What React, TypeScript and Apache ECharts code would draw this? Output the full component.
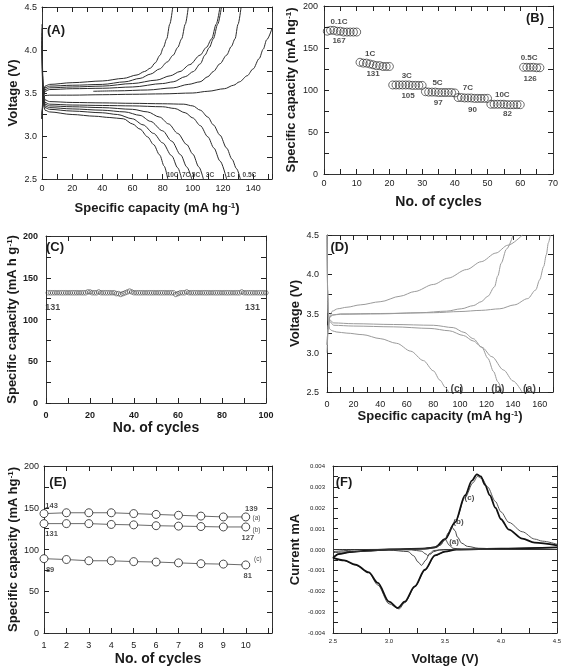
import React, { useEffect, useRef } from "react";
import * as echarts from "echarts";

const FONT = "'Liberation Sans', Arial, Helvetica, sans-serif";
const INK = "#1a1a1a";

// ---------- Panel A: charge/discharge curves at several rates [capacity, voltage] ----------
const aDis05 = [[0, 4.3], [0.5, 3.7], [1, 3.5], [2, 3.42], [5, 3.4], [20, 3.39], [40, 3.385], [60, 3.38], [80, 3.375], [94, 3.37], [100, 3.35], [105, 3.3], [110, 3.22], [113.6, 3.13], [118, 3.01], [122.4, 2.86], [126, 2.73], [129, 2.62], [131.5, 2.5]];
const aDis1 = [[0, 4.25], [0.5, 3.65], [1, 3.47], [2, 3.39], [5, 3.37], [20, 3.36], [40, 3.355], [60, 3.35], [80, 3.34], [88, 3.32], [95, 3.27], [100, 3.21], [105, 3.12], [110, 2.99], [114, 2.86], [118, 2.71], [122.4, 2.5]];
const aDis3 = [[0, 4.2], [0.5, 3.6], [1, 3.44], [2, 3.37], [5, 3.35], [20, 3.34], [40, 3.33], [60, 3.31], [70, 3.28], [78, 3.22], [84, 3.14], [90, 3.03], [96, 2.9], [100, 2.79], [104, 2.64], [107, 2.5]];
const aDis5 = [[0, 4.15], [0.5, 3.58], [1, 3.42], [2, 3.35], [5, 3.33], [20, 3.315], [40, 3.3], [55, 3.28], [65, 3.24], [72, 3.17], [80, 3.06], [86, 2.94], [92, 2.78], [96, 2.64], [99.3, 2.5]];
const aDis7 = [[0, 4.1], [0.5, 3.55], [1, 3.4], [2, 3.33], [5, 3.31], [20, 3.29], [40, 3.27], [50, 3.25], [60, 3.2], [67, 3.13], [74, 3.03], [80, 2.92], [86, 2.77], [90, 2.63], [92.6, 2.5]];
const aDis10 = [[0, 4.05], [0.5, 3.5], [1, 3.36], [2, 3.3], [5, 3.28], [20, 3.25], [35, 3.23], [45, 3.215], [54, 3.2], [60, 3.14], [65, 3.08], [70, 2.99], [74, 2.9], [78, 2.78], [81, 2.65], [83.4, 2.5]];
const aCh05 = [[0, 3.2], [1, 3.44], [2, 3.47], [5, 3.475], [20, 3.475], [40, 3.48], [60, 3.485], [80, 3.49], [100, 3.5], [110, 3.52], [121, 3.55], [127, 3.59], [131, 3.63], [136, 3.7], [140, 3.78], [144, 3.9], [146.7, 4.01], [149, 4.12], [152.5, 4.25]];
const aCh1 = [[34, 3.52], [50, 3.525], [70, 3.535], [87, 3.56], [97, 3.6], [104.8, 3.63], [110, 3.69], [113.6, 3.75], [118, 3.84], [122.4, 3.94], [125.5, 4.04], [128, 4.13], [130, 4.3], [132, 4.5]];
const aCh3 = [[0, 3.2], [1, 3.46], [2, 3.52], [5, 3.54], [20, 3.55], [40, 3.555], [60, 3.57], [80, 3.61], [87, 3.63], [95, 3.69], [100.4, 3.75], [105, 3.84], [108, 3.94], [111, 4.03], [113.6, 4.13], [116.5, 4.3], [119, 4.5]];
const aCh5 = [[0, 3.2], [1, 3.48], [2, 3.54], [5, 3.56], [20, 3.57], [40, 3.58], [60, 3.61], [76, 3.65], [85, 3.7], [91.5, 3.75], [98, 3.83], [104.8, 3.94], [109, 4.03], [112.5, 4.13], [115.5, 4.3], [118, 4.5]];
const aCh7 = [[0, 3.2], [1, 3.5], [2, 3.56], [5, 3.58], [20, 3.59], [40, 3.6], [55, 3.63], [65, 3.67], [72, 3.72], [78, 3.78], [83, 3.86], [87, 3.94], [90, 4.03], [92.6, 4.13], [95, 4.3], [97, 4.5]];
const aCh10 = [[0, 3.25], [1, 3.52], [2, 3.58], [5, 3.6], [20, 3.62], [40, 3.64], [54, 3.67], [63, 3.71], [68, 3.75], [72, 3.79], [75, 3.85], [78.3, 3.94], [80.5, 4.03], [82.7, 4.13], [84.7, 4.3], [86.7, 4.5]];
const aNotes = [
  { t: "10C", x: 86.6, y: 2.556 },
  { t: "7C", x: 95.5, y: 2.556 },
  { t: "5C", x: 102.1, y: 2.556 },
  { t: "3C", x: 111.4, y: 2.556 },
  { t: "1C", x: 125.3, y: 2.556 },
  { t: "0.5C", x: 137.5, y: 2.556 },
];

// ---------- Panel B: rate capability ----------
const bStartCycle = [1, 11, 21, 31, 41, 51, 61];
const b01C = [170, 171, 171, 170, 170, 169, 169, 169, 169, 169];
const b1C = [133, 132, 132, 131, 130, 129, 129, 128, 128, 128];
const b3C = [106, 106, 106, 106, 106, 106, 105.5, 105.5, 105.5, 105.5];
const b5C = [98, 97.5, 97.5, 97.5, 97, 97, 97, 97, 97, 96.5];
const b7C = [91, 91, 90.5, 90.5, 90.5, 90, 90, 90, 90, 90];
const b10C = [83, 83, 83, 83, 83, 82.5, 82.5, 82.5, 82.5, 82.5];
const b05C = [127, 127, 127, 127, 126.5, 126.5];
const bNotes = [
  { t: "0.1C", x: 4.6, y: 182 }, { t: "167", x: 4.6, y: 158.4 },
  { t: "1C", x: 14.1, y: 143.8 }, { t: "131", x: 15, y: 119.2 },
  { t: "3C", x: 25.3, y: 116.8 }, { t: "105", x: 25.7, y: 93.5 },
  { t: "5C", x: 34.7, y: 108.9 }, { t: "97", x: 34.9, y: 85.1 },
  { t: "7C", x: 44, y: 102.6 }, { t: "90", x: 45.4, y: 77.2 },
  { t: "10C", x: 54.5, y: 94.3 }, { t: "82", x: 56.1, y: 72.5 },
  { t: "0.5C", x: 62.7, y: 139 }, { t: "126", x: 63, y: 114 },
];

// ---------- Panel C: 100-cycle stability ----------
const cCapacity = [
  132, 132, 132, 132, 132, 132, 132, 132, 132, 132,
  132, 132, 132, 132, 132, 132, 132, 132, 133, 133,
  132, 132, 132, 133, 132, 132, 132, 132, 132, 132,
  132, 131, 131, 130, 131, 132, 133, 134, 133, 132,
  132, 132, 132, 132, 132, 132, 132, 132, 132, 132,
  132, 132, 132, 132, 132, 132, 132, 132, 130, 131,
  132, 132, 132, 133, 132, 132, 132, 132, 132, 132,
  132, 132, 132, 132, 132, 132, 132, 132, 132, 132,
  132, 132, 132, 132, 132, 132, 132, 132, 133, 132,
  132, 132, 132, 132, 132, 132, 132, 132, 132, 132,
];
const cNotes = [{ t: "131", x: 3.05, y: 114.6 }, { t: "131", x: 93.9, y: 114.6 }];

// ---------- Panel D: three samples, charge/discharge ----------
const dChA = [[0, 3.1], [1, 3.35], [2, 3.45], [4, 3.48], [10, 3.495], [40, 3.5], [80, 3.51], [100, 3.525], [116, 3.54], [130, 3.56], [141, 3.61], [151, 3.69], [157, 3.8], [160, 3.93], [163, 4.1], [165, 4.25], [166.5, 4.4], [168, 4.5]];
const dChB = [[0, 3.1], [1, 3.35], [2, 3.45], [4, 3.48], [10, 3.49], [40, 3.495], [70, 3.51], [90, 3.53], [101, 3.56], [110, 3.6], [116, 3.65], [121, 3.72], [126, 3.84], [128.5, 3.98], [131, 4.14], [135, 4.32], [140, 4.5]];
const dChC = [[0, 3.0], [1, 3.3], [2, 3.45], [4, 3.53], [8, 3.56], [15, 3.58], [25, 3.61], [40, 3.65], [55, 3.72], [66, 3.78], [80, 3.87], [91, 3.95], [105, 4.06], [116, 4.16], [127, 4.27], [136, 4.37], [147, 4.5]];
const dDisA = [[0, 4.5], [0.5, 3.8], [1, 3.5], [2, 3.4], [5, 3.35], [20, 3.34], [50, 3.33], [77.5, 3.31], [92, 3.28], [102.6, 3.22], [110, 3.15], [116.5, 3.07], [124, 2.95], [132.8, 2.78], [140, 2.64], [146.7, 2.5]];
const dDisB = [[0, 4.5], [0.5, 3.8], [1, 3.5], [2, 3.42], [5, 3.38], [20, 3.37], [50, 3.36], [80, 3.35], [95, 3.32], [103, 3.26], [110, 3.18], [116.5, 3.07], [121, 2.93], [125.3, 2.76], [128.5, 2.63], [131.6, 2.5]];
const dDisC = [[0, 4.5], [0.5, 3.7], [1, 3.4], [2, 3.3], [4, 3.28], [7, 3.265], [15, 3.25], [27, 3.23], [40, 3.18], [52.4, 3.12], [63, 3.02], [72.5, 2.9], [80, 2.77], [85, 2.65], [89, 2.56], [91.3, 2.5]];
const dNotes = [{ t: "(c)", x: 97.7, y: 2.55 }, { t: "(b)", x: 128.5, y: 2.55 }, { t: "(a)", x: 152.3, y: 2.55 }];

// ---------- Panel E: first 10 cycles of three samples ----------
const eCycles = [1, 2, 3, 4, 5, 6, 7, 8, 9, 10];
const eA = [143, 144, 144, 144, 143, 142, 141, 140, 139, 139];
const eB = [131, 131, 131, 130, 129.5, 128.5, 128, 127.5, 127, 127];
const eC = [89, 88, 86.5, 86.5, 85.5, 85, 84, 83, 82.5, 81.5];
const eNumNotes = [
  { t: "143", x: 1.34, y: 153 }, { t: "131", x: 1.34, y: 119.6 }, { t: "89", x: 1.27, y: 76.4 },
  { t: "139", x: 10.25, y: 149.6 }, { t: "127", x: 10.09, y: 114.8 }, { t: "81", x: 10.09, y: 69.2 },
];
const eTagNotes = [{ t: "(a)", x: 10.48, y: 138 }, { t: "(b)", x: 10.48, y: 124.4 }, { t: "(c)", x: 10.54, y: 89.6 }];

// ---------- Panel F: cyclic voltammograms [voltage, current] ----------
const fAanodic = [[2.5, 0], [3.0, 0], [3.35, 0.00003], [3.42, 0.0001], [3.46, 0.00021], [3.5, 0.00049], [3.54, 0.0002], [3.57, 0.00006], [3.65, 0.00001], [4.0, 0], [4.5, 0]];
const fAcathodic = [[4.5, 0], [3.6, 0], [3.45, -0.00002], [3.4, -0.0001], [3.37, -0.00022], [3.35, -0.0003], [3.33, -0.00022], [3.29, -0.00008], [3.2, -0.00002], [3.0, 0], [2.5, 0]];
const fBanodic = [[2.5, -0.0001], [2.8, 0], [3.3, 0.00003], [3.4, 0.0001], [3.45, 0.0002], [3.5, 0.0005], [3.53, 0.0008], [3.56, 0.00108], [3.59, 0.0009], [3.61, 0.0006], [3.65, 0.0003], [3.7, 0.00015], [3.8, 0.00006], [4.0, 0.00002], [4.5, 0]];
const fBcathodic = [[4.5, 0], [3.5, 0], [3.4, -0.00005], [3.36, -0.0002], [3.33, -0.0005], [3.29, -0.00076], [3.26, -0.0006], [3.22, -0.0003], [3.17, -0.0001], [3.0, -0.00003], [2.7, -0.0001], [2.5, -0.00015]];
const fC1anodic = [[2.5, -0.0004], [2.55, -0.00022], [2.65, -0.00012], [2.8, -0.00005], [3.0, 0], [3.3, 0.00004], [3.41, 0.0001], [3.5, 0.00049], [3.59, 0.0013], [3.68, 0.0026], [3.74, 0.0033], [3.784, 0.0036], [3.82, 0.0035], [3.857, 0.0031], [3.9, 0.0026], [3.95, 0.002], [4.0, 0.00145], [4.07, 0.00095], [4.19, 0.00052], [4.3, 0.00033], [4.5, 0.0002]];
const fC1cathodic = [[4.5, 0.0001], [4.0, 0.00004], [3.6, 0], [3.5, -0.0001], [3.41, -0.00028], [3.32, -0.00097], [3.23, -0.00177], [3.14, -0.0025], [3.08, -0.0028], [3.0, -0.0025], [2.9, -0.0016], [2.82, -0.0011], [2.7, -0.00072], [2.6, -0.00052], [2.5, -0.0004]];
const fC2anodic = [[2.5, -0.0004], [2.55, -0.0002], [2.7, -0.0001], [3.0, 0], [3.3, 0.00005], [3.41, 0.00012], [3.5, 0.0005], [3.59, 0.0013], [3.68, 0.0025], [3.75, 0.0032], [3.79, 0.0035], [3.83, 0.0034], [3.88, 0.003], [3.95, 0.0023], [4.0, 0.0018], [4.07, 0.0013], [4.19, 0.00085], [4.3, 0.0005], [4.37, 0.0004], [4.5, 0.00025]];
const fC2cathodic = [[4.5, 0.0001], [4.0, 0.00004], [3.6, 0], [3.5, -0.0001], [3.41, -0.0003], [3.32, -0.001], [3.23, -0.0018], [3.14, -0.00255], [3.09, -0.00285], [3.0, -0.0026], [2.9, -0.0017], [2.82, -0.0011], [2.7, -0.00075], [2.6, -0.00053], [2.5, -0.00042]];
const fNotes = [{ t: "(c)", x: 3.718, y: 0.00249 }, { t: "(b)", x: 3.62, y: 0.00132 }, { t: "(a)", x: 3.581, y: 0.00036 }];

// ---------- text ----------
const capName = "Specific capacity (mA hg{s|-1})";
const capNameC = "Specific capacity (mA h g{s|-1})";
const panelTags = ["(A)", "(B)", "(C)", "(D)", "(E)", "(F)"];

type Note = { t: string; x: number; y: number };

function nameStyle(size: number) {
  return {
    fontSize: size,
    fontWeight: "bold",
    fontFamily: FONT,
    color: INK,
    rich: { s: { fontSize: 8, fontWeight: "bold", fontFamily: FONT, color: INK, verticalAlign: "top" } },
  };
}

function makeAxes(g: number, dim: "x" | "y", min: number, max: number, step: number,
  fmt: (v: number) => string, lab: any, name: string, gap: number, nameSize: number) {
  const base = () => ({
    type: "value", gridIndex: g, min, max, interval: step,
    splitLine: { show: false },
    axisLine: { show: true, onZero: false, lineStyle: { color: "#333", width: 1 } },
    axisTick: { show: true, inside: true, length: 5, lineStyle: { color: "#222", width: 1 } },
  });
  const first = dim === "x" ? "bottom" : "left";
  const second = dim === "x" ? "top" : "right";
  return [
    {
      ...base(), position: first,
      axisLabel: { show: true, color: INK, fontFamily: FONT, formatter: fmt, ...lab },
      name, nameLocation: "middle", nameGap: gap, nameTextStyle: nameStyle(nameSize),
    },
    { ...base(), position: second, axisLabel: { show: false } },
  ];
}

function curve(g: number, data: number[][], color: string, width: number) {
  return {
    type: "line", xAxisIndex: g * 2, yAxisIndex: g * 2, data, symbol: "none", showSymbol: false,
    smooth: 0.3, smoothMonotone: "x", lineStyle: { color, width }, silent: true, z: 2,
  };
}

function notes(g: number, items: Note[], size: number, weight: string) {
  return {
    type: "scatter", xAxisIndex: g * 2, yAxisIndex: g * 2, symbolSize: 0, silent: true, z: 5,
    itemStyle: { color: INK },
    data: items.map((it) => ({ name: it.t, value: [it.x, it.y] })),
    label: {
      show: true, position: "inside", formatter: "{b}", fontSize: size, fontWeight: weight,
      color: INK, fontFamily: FONT, textBorderWidth: 0, textBorderColor: "transparent",
    },
  };
}

const halfFmt = (v: number) => (Math.round(v * 100) % 50 === 0 ? v.toFixed(1) : "");
const stepFmt = (step: number, maxShown: number) => (v: number) =>
  Math.abs(Math.round(v) % step) === 0 && v <= maxShown + 1e-9 && Math.abs(v - Math.round(v)) < 1e-6 ? String(Math.round(v)) : "";

export default function App() {
  const ref = useRef<HTMLDivElement>(null);
  useEffect(() => {
    if (!ref.current) return;
    const chart = echarts.init(ref.current, null, { renderer: "svg" });

    const grids = [
      { left: 42, top: 7, width: 230, height: 172 },
      { left: 324, top: 6, width: 229, height: 168 },
      { left: 46, top: 236, width: 220, height: 167 },
      { left: 327, top: 235, width: 226, height: 157 },
      { left: 44, top: 466, width: 228, height: 167 },
      { left: 333, top: 466, width: 224, height: 167 },
    ].map((g) => ({ ...g, containLabel: false, outerBoundsMode: "none" }));

    const lab9 = { fontSize: 9 };
    const xAxis = [
      ...makeAxes(0, "x", 0, 152.5, 10, stepFmt(20, 140), { ...lab9, margin: 4 }, capName, 22, 13),
      ...makeAxes(1, "x", 0, 70, 5, stepFmt(10, 70), { ...lab9, margin: 4 }, "No. of cycles", 20, 14),
      ...makeAxes(2, "x", 0, 100, 10, stepFmt(20, 100), { ...lab9, fontWeight: "bold", margin: 7 }, "No. of cycles", 17, 14),
      ...makeAxes(3, "x", 0, 170, 10, stepFmt(20, 160), { ...lab9, margin: 7 }, capName, 17, 13),
      ...makeAxes(4, "x", 1, 11.17, 1, stepFmt(1, 10), { ...lab9, margin: 7 }, "No. of cycles", 18, 14),
      ...makeAxes(5, "x", 2.5, 4.5, 0.25, halfFmt, { fontSize: 6, margin: 5 }, "Voltage (V)", 19, 13),
    ];
    const yAxis = [
      ...makeAxes(0, "y", 2.5, 4.5, 0.25, halfFmt, { ...lab9, margin: 5 }, "Voltage (V)", 23, 13),
      ...makeAxes(1, "y", 0, 200, 25, stepFmt(50, 200), { ...lab9, margin: 6 }, capName, 27, 13),
      ...makeAxes(2, "y", 0, 200, 25, stepFmt(50, 200), { ...lab9, fontWeight: "bold", margin: 8 }, capNameC, 28, 13),
      ...makeAxes(3, "y", 2.5, 4.5, 0.25, halfFmt, { ...lab9, margin: 8 }, "Voltage (V)", 26, 13),
      ...makeAxes(4, "y", 0, 200, 25, stepFmt(50, 200), { ...lab9, margin: 5 }, capName, 25, 13),
      ...makeAxes(5, "y", -0.004, 0.004, 0.0005,
        (v: number) => (Math.round(v * 10000) % 10 === 0 ? v.toFixed(3) : ""), { fontSize: 6, margin: 8 }, "Current mA", 32, 13),
    ];

    const aColor = "#2b2b2b";
    const series: any[] = [];
    [aDis05, aDis1, aDis3, aDis5, aDis7, aDis10, aCh05, aCh1, aCh3, aCh5, aCh7, aCh10].forEach((d) =>
      series.push(curve(0, d, aColor, 1)));
    series.push(notes(0, aNotes, 6.5, "bold"));

    [b01C, b1C, b3C, b5C, b7C, b10C, b05C].forEach((vals, k) =>
      series.push({
        type: "scatter", xAxisIndex: 2, yAxisIndex: 2, symbol: "circle", symbolSize: 8,
        data: vals.map((v, i) => [bStartCycle[k] + i, v]),
        itemStyle: { color: "rgba(255,255,255,0)", borderColor: INK, borderWidth: 0.8 }, silent: true,
      }));
    series.push(notes(1, bNotes, 8, "bold"));

    series.push({
      type: "scatter", xAxisIndex: 4, yAxisIndex: 4, symbol: "circle", symbolSize: 4.5,
      data: cCapacity.map((v, i) => [i + 1, v]),
      itemStyle: { color: "rgba(255,255,255,0)", borderColor: "#333", borderWidth: 0.7 }, silent: true,
    });
    series.push(notes(2, cNotes, 9, "bold"));

    [dChA, dChB, dChC, dDisA, dDisB, dDisC].forEach((d) => series.push(curve(3, d, "#9a9a9a", 1)));
    series.push(notes(3, dNotes, 10.5, "bold"));

    [eA, eB, eC].forEach((vals) =>
      series.push({
        type: "line", xAxisIndex: 8, yAxisIndex: 8, data: eCycles.map((c, i) => [c, vals[i]]),
        symbol: "circle", symbolSize: 8, showSymbol: true,
        lineStyle: { color: "#444", width: 0.8 },
        itemStyle: { color: "#fff", borderColor: INK, borderWidth: 0.8 }, silent: true,
      }));
    series.push(notes(4, eNumNotes, 7.5, "bold"));
    series.push(notes(4, eTagNotes, 6.5, "normal"));

    [fC2anodic, fC2cathodic].forEach((d) => series.push(curve(5, d, "#555", 1)));
    [fC1anodic, fC1cathodic].forEach((d) => series.push(curve(5, d, "#111", 1.8)));
    [fAanodic, fAcathodic, fBanodic, fBcathodic].forEach((d) => series.push(curve(5, d, "#333", 0.9)));
    series.push(notes(5, fNotes, 8, "bold"));

    const tagPos = [[56, 29], [535, 17], [55, 246.7], [339.5, 246.7], [58, 481.7], [344, 481.7]];
    const graphic = panelTags.map((t, i) => ({
      type: "text", x: tagPos[i][0], y: tagPos[i][1], silent: true, z: 10,
      style: { text: t, fontSize: 13, fontWeight: "bold", fontFamily: FONT, fill: INK, align: "center", verticalAlign: "middle" },
    }));

    chart.setOption({
      animation: false,
      grid: grids,
      xAxis,
      yAxis,
      series,
      graphic,
    });
    return () => chart.dispose();
  }, []);
  return <div ref={ref} style={{ position: "fixed", left: 0, top: 0, width: 562, height: 668 }} />;
}
